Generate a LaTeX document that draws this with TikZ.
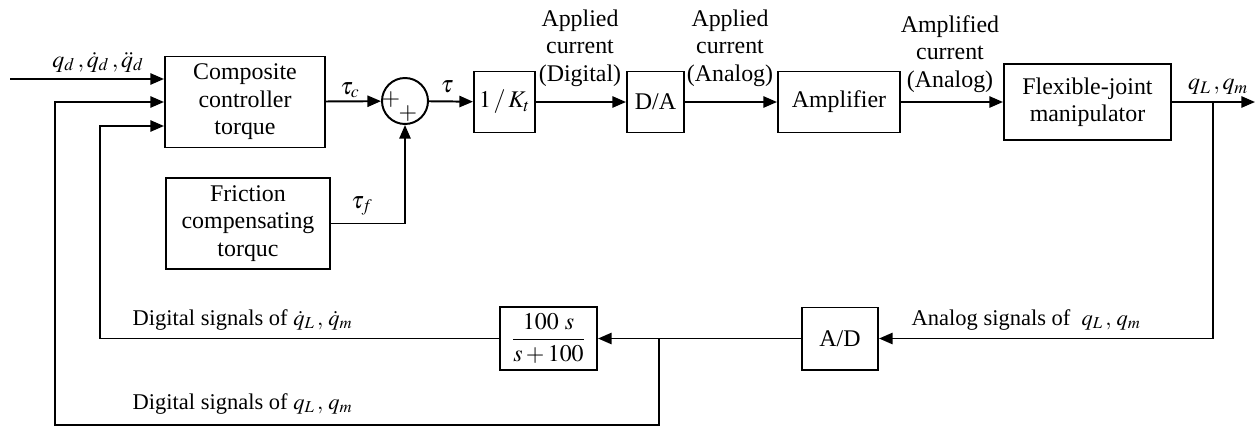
\documentclass[tikz,border=0pt]{standalone}
\usepackage{amsmath}
\usepackage{mathptmx}
\usepackage{fontspec}
\setmainfont{Liberation Serif}
\usetikzlibrary{arrows.meta}

\tikzset{
  blk/.style={draw, line width=1.4pt, align=center, inner sep=2pt},
  wire/.style={line width=1.4pt},
  arr/.style={wire, -{Triangle[length=3.4mm,width=2.8mm]}},
  lbl/.style={align=center, inner sep=1pt},
  fblbl/.style={anchor=west, inner sep=1pt, font=\fontsize{16}{19}\selectfont},
}

\begin{document}
\begin{tikzpicture}[x=0.025cm, y=-0.025cm, font=\fontsize{17}{19.5}\selectfont]
	\useasboundingbox (0,0) rectangle (1260,428);
	% forward path
	\node[blk, minimum width=4cm, minimum height=2.275cm] (comp) at (245,102) {Composite\\controller\\torque};
	\node[blk, minimum width=4.1cm, minimum height=2.275cm] (fric) at (248,223.5) {Friction\\compensating\\torquc};
	\node[draw, circle, line width=1.4pt, minimum size=1.15cm, inner sep=0pt] (sum) at (405,101) {};
	\node[inner sep=0pt] (plusa) at (391,100) {$+$};
	\node[inner sep=0pt] (plusb) at (408,114) {$+$};
	\node[blk, minimum width=1.525cm, minimum height=1.525cm] (kt) at (504.5,102) {$1\,/\,K_t$};
	\node[blk, minimum width=1.425cm, minimum height=1.525cm] (da) at (655.5,102) {D/A};
	\node[blk, minimum width=3.05cm, minimum height=1.525cm] (amp) at (839,102) {Amplifier};
	\node[blk, minimum width=4.175cm, minimum height=1.9cm] (flex) at (1087.5,102) {Flexible-joint\\manipulator};
	% feedback path
	\node[blk, minimum width=1.9cm, minimum height=1.55cm] (ad) at (840,338.5) {A/D};
	\node[blk, minimum width=2.425cm, minimum height=1.575cm] (filt) at (548.5,338.5) {$\dfrac{100\ s}{s+100}$};
	% free ends and corners
	\coordinate (in) at (10,79);
	\coordinate (out) at (1255,102);
	\coordinate (br1) at (1213,102);
	\coordinate (br2) at (659,338.5);
	\coordinate (c0) at (55,425);
	\coordinate (c1) at (100,126);
	% connectors
	\draw[arr] (in) -- (in -| comp.west);
	\draw[arr] (comp) -- (sum);
	\draw[arr] (fric.east) -| (sum.south);
	\draw[arr] (sum) -- (kt);
	\draw[arr] (kt) -- (da);
	\draw[arr] (da) -- (amp);
	\draw[arr] (amp) -- (flex);
	\draw[arr] (flex) -- (out);
	\draw[arr] (br1) |- (ad.east);
	\draw[arr] (ad) -- (filt);
	\draw[arr] (filt.west) -| (c1) -- (c1 -| comp.west);
	\draw[arr] (br2) |- (c0) -- (c0 |- comp.west) -- (comp.west);
	% labels
	\node[lbl] (lqd) at (98,62) {$q_d\,,\dot q_d\,,\ddot q_d$};
	\node[lbl] (ltauc) at (350,90) {$\tau_c$};
	\node[lbl] (ltauf) at (362,206) {$\tau_f$};
	\node[lbl] (ltau) at (447,87) {$\tau$};
	\node[lbl] (ldig) at (580,48) {Applied\\current\\(Digital)};
	\node[lbl] (lana) at (730,48) {Applied\\current\\(Analog)};
	\node[lbl] (lamp) at (950,54) {Amplified\\current\\(Analog)};
	\node[lbl] (lout) at (1218,87) {$q_L\,,q_m$};
	\node[fblbl] (lfbad) at (910,320) {Analog signals of\ \ $q_L\,,\,q_m$};
	\node[fblbl] (lfbdot) at (131,320) {Digital signals of $\dot q_L\,,\,\dot q_m$};
	\node[fblbl] (lfbq) at (131,404) {Digital signals of $q_L\,,\,q_m$};
\end{tikzpicture}
\end{document}
